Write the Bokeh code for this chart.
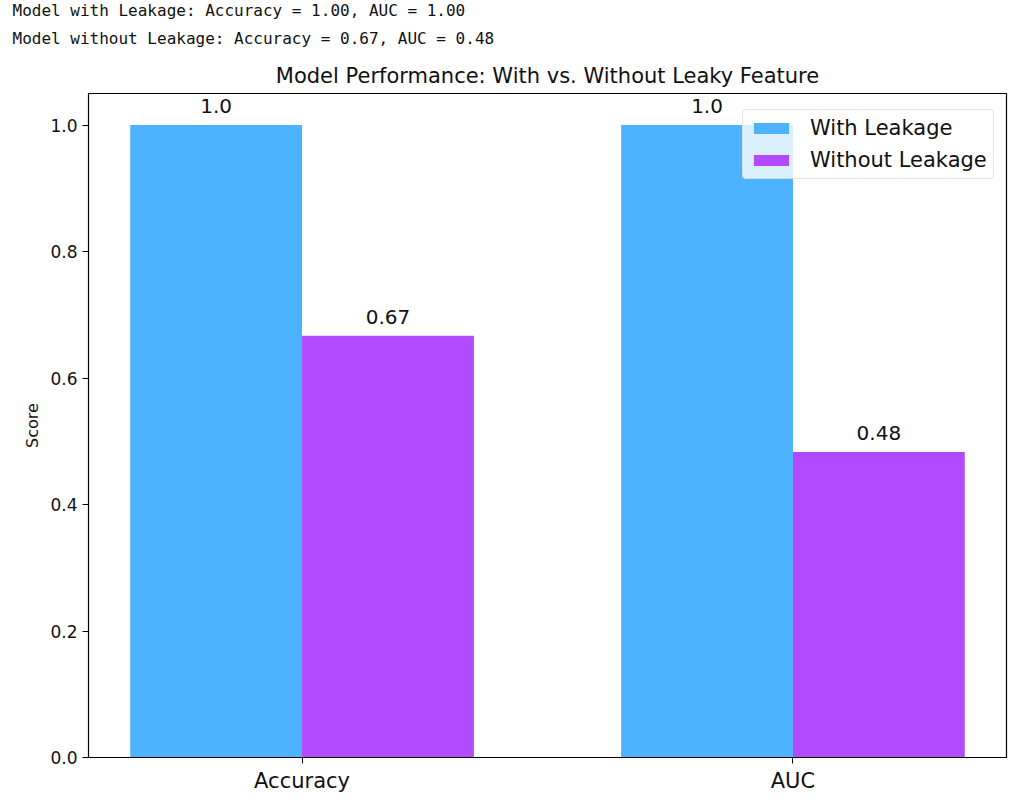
from bokeh.plotting import figure
from bokeh.models import Range1d, FixedTicker, Title, Legend, LegendItem, ColumnDataSource
from bokeh.embed import file_html
from bokeh.resources import INLINE
from bokeh.core.properties import value

metrics = ["Accuracy", "AUC"]
with_leak = [1.0, 1.0]
without_leak = [0.667, 0.483]
y_ticks = [0.0, 0.2, 0.4, 0.6, 0.8, 1.0]
info_lines = [
    "Model with Leakage: Accuracy = 1.00, AUC = 1.00",
    "Model without Leakage: Accuracy = 0.67, AUC = 0.48",
]
title_text = "Model Performance: With vs. Without Leaky Feature"

BLUE = "#4db2ff"
PURPLE = "#b24bff"
FONT = "DejaVu Sans"
MONO = "DejaVu Sans Mono"
bw = 0.35

idx = list(range(len(metrics)))
src_a = ColumnDataSource(dict(
    x=[i - bw / 2 for i in idx], top=with_leak,
    lab=[str(round(v, 2)) for v in with_leak]))
src_b = ColumnDataSource(dict(
    x=[i + bw / 2 for i in idx], top=without_leak,
    lab=[str(round(v, 2)) for v in without_leak]))

p = figure(width=1008, height=788, output_backend="svg", toolbar_location=None,
           x_range=Range1d(-0.435, 1.435), y_range=Range1d(0, 1.05),
           frame_width=918, frame_height=664, title=None,
           min_border_left=88, min_border_right=10, min_border_bottom=20, min_border_top=0)
p.background_fill_color = "white"
p.border_fill_color = "white"
p.outline_line_color = "black"
p.outline_line_width = 1.2
p.xgrid.visible = False
p.ygrid.visible = False

r1 = p.vbar(x="x", top="top", width=bw, source=src_a, fill_color=BLUE, line_color=None)
r2 = p.vbar(x="x", top="top", width=bw, source=src_b, fill_color=PURPLE, line_color=None)

for s in (src_a, src_b):
    p.text(x="x", y="top", text="lab", source=s, text_align="center", text_baseline="bottom",
           y_offset=-12, text_font=value(FONT), text_font_size="20px", text_color="#111111")

# axes
p.xaxis.ticker = FixedTicker(ticks=idx)
p.xaxis.major_label_overrides = {i: m for i, m in zip(idx, metrics)}
p.xaxis.major_label_text_font = FONT
p.xaxis.major_label_text_font_size = "21px"
p.xaxis.major_label_text_color = "#111111"
p.yaxis.ticker = FixedTicker(ticks=y_ticks)
p.yaxis.major_label_overrides = {t: f"{t:.1f}" for t in y_ticks}
p.yaxis.major_label_text_font = FONT
p.yaxis.major_label_text_font_size = "17px"
p.yaxis.major_label_text_color = "#111111"
p.yaxis.axis_label = "Score"
p.yaxis.axis_label_text_font = FONT
p.yaxis.axis_label_text_font_size = "16px"
p.yaxis.axis_label_text_font_style = "normal"
p.yaxis.axis_label_text_color = "#111111"
p.yaxis.axis_label_standoff = 5
for ax in (p.xaxis, p.yaxis):
    ax.axis_line_color = "black"
    ax.major_tick_line_color = "black"
    ax.major_tick_out = 6
    ax.major_tick_in = 0
    ax.minor_tick_line_color = None
    ax.major_label_standoff = 5

# titles (first added sits closest to the plot)
p.add_layout(Title(text=title_text, align="center", text_font=FONT,
                   text_font_size="21px", text_font_style="normal",
                   text_color="#111111", standoff=11), "above")
for line, so in zip(reversed(info_lines), (18, -4)):
    p.add_layout(Title(text=line, align="left", offset=-76, text_font=MONO,
                       text_font_size="16px", text_font_style="normal",
                       text_color="#111111", standoff=so), "above")

legend = Legend(items=[LegendItem(label="With Leakage", renderers=[r1]),
                       LegendItem(label="Without Leakage", renderers=[r2])],
                location=(654, 578))
legend.label_text_font = FONT
legend.label_text_font_size = "21px"
legend.label_text_color = "#111111"
legend.label_standoff = 17
legend.glyph_width = 44
legend.glyph_height = 14
legend.spacing = 8
legend.padding = 6
legend.margin = 0
legend.border_line_color = "#cccccc"
legend.border_radius = 4
legend.background_fill_alpha = 0.8
p.add_layout(legend, "center")

open("out.html", "w").write(file_html(p, INLINE))
